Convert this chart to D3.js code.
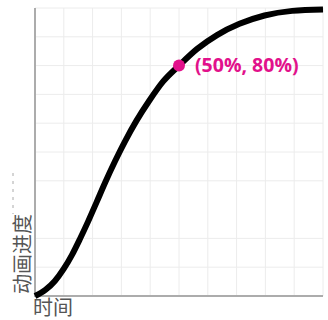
<!DOCTYPE html>
<html><head><meta charset="utf-8">
<script src="https://cdn.jsdelivr.net/npm/d3@7"></script>
<style>html,body{margin:0;padding:0;background:#fff;}svg{display:block;}</style>
</head><body>
<svg id="chart" width="328" height="320"></svg>
<script>
// data (fraction of time, fraction of progress)
const timeVals     = [0, 0.036, 0.069, 0.099, 0.128, 0.156, 0.185, 0.214, 0.244, 0.277, 0.313, 0.352, 0.396, 0.445, 0.50, 0.563, 0.632, 0.710, 0.797, 0.893, 1.0];
const progressVals = [0, 0.021, 0.052, 0.093, 0.142, 0.198, 0.260, 0.326, 0.395, 0.466, 0.538, 0.608, 0.677, 0.745, 0.80, 0.858, 0.906, 0.945, 0.974, 0.990, 0.995];
const xGridTicks = [0.1, 0.2, 0.3, 0.4, 0.5, 0.6, 0.7, 0.8, 0.9, 1.0];
const yGridTicks = [0.1, 0.2, 0.4, 0.5, 0.6, 0.7, 0.8, 0.9, 1.0];
const markerPoint = [0.5, 0.8];
const markerLabel = "(50%, 80%)";
const xLabel = "时间";
const yLabel = "动画进度";

const svg = d3.select("#chart");
const margin = {left: 35, top: 8, right: 5, bottom: 24};
const W = 328, H = 320;
const x = d3.scaleLinear().domain([0, 1]).range([margin.left, W - margin.right]);
const y = d3.scaleLinear().domain([0, 1]).range([H - margin.bottom, margin.top]);

// grid
svg.append("g").selectAll("line").data(xGridTicks).join("line")
  .attr("x1", d => x(d)).attr("x2", d => x(d))
  .attr("y1", y(0)).attr("y2", y(1))
  .attr("stroke", "#ececec").attr("stroke-width", 1);
svg.append("g").selectAll("line").data(yGridTicks).join("line")
  .attr("x1", x(0)).attr("x2", x(1))
  .attr("y1", d => y(d)).attr("y2", d => y(d))
  .attr("stroke", "#ececec").attr("stroke-width", 1);

// axes
svg.append("line").attr("x1", x(0)).attr("x2", x(0)).attr("y1", y(1)).attr("y2", y(0) + 1)
  .attr("stroke", "#acacac").attr("stroke-width", 2);
svg.append("line").attr("x1", x(0) - 1).attr("x2", x(1)).attr("y1", y(0)).attr("y2", y(0))
  .attr("stroke", "#acacac").attr("stroke-width", 2);

// curve
const pts = timeVals.map((t, i) => [t, progressVals[i]]);
const line = d3.line().x(d => x(d[0])).y(d => y(d[1])).curve(d3.curveMonotoneX);
svg.append("path").datum(pts).attr("d", line)
  .attr("fill", "none").attr("stroke", "#000").attr("stroke-width", 6)
  .attr("stroke-linecap", "butt");

// marker
svg.append("circle").attr("cx", x(markerPoint[0])).attr("cy", y(markerPoint[1])).attr("r", 6)
  .attr("fill", "#e2118b");
svg.append("text").attr("x", x(markerPoint[0]) + 16).attr("y", y(markerPoint[1]) + 6.5)
  .attr("font-family", "Open Sans").attr("font-weight", "bold").attr("font-size", 19.5)
  .attr("fill", "#e2118b").text(markerLabel);

// labels
svg.append("text").attr("x", 33).attr("y", 315)
  .attr("font-family", "Noto Sans CJK SC").attr("font-size", 20).attr("fill", "#555")
  .text(xLabel);
svg.append("text").attr("transform", "translate(29.5,294) rotate(-90)")
  .attr("font-family", "Noto Sans CJK SC").attr("font-size", 20).attr("fill", "#555")
  .text(yLabel);
svg.append("line").attr("x1", 13).attr("x2", 13).attr("y1", 173).attr("y2", 214)
  .attr("stroke", "#aaa").attr("stroke-width", 1).attr("stroke-dasharray", "3,5");
</script>
</body></html>
